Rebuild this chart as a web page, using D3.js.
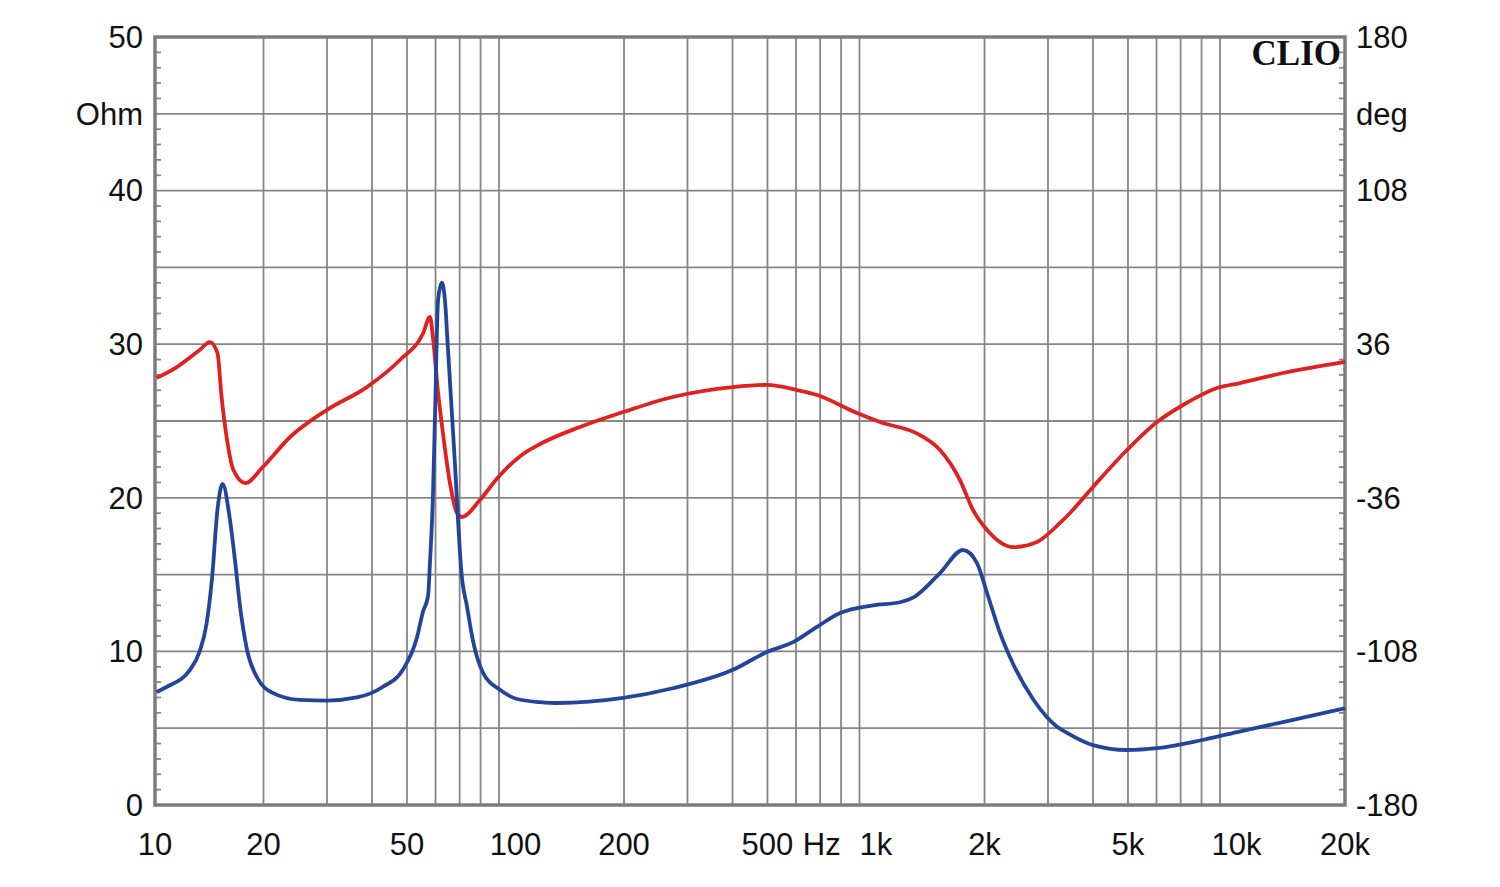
<!DOCTYPE html>
<html>
<head>
<meta charset="utf-8">
<script src="https://cdn.jsdelivr.net/npm/d3@7"></script>
<style>
html,body{margin:0;padding:0;background:#fff;}
svg{display:block;}
</style>
</head>
<body>
<svg id="chart" width="1500" height="887"></svg>
<script>
// Impedance magnitude (Ohm) vs frequency (Hz)
const impFreq = [10.1,10.8,12.5,13.3,13.9,14.4,14.9,15.4,16.1,16.7,17.2,18.0,19.2,21.2,25.3,30.0,36.3,42.9,48.7,53.3,55.4,57.2,57.9,59.0,59.8,61.0,62.5,63.7,65.0,66.7,68.0,69.3,70.7,73.4,76.2,81.3,90.6,101,117,130,199,273,401,498,589,686,795,981,1166,1267,1505,1743,1906,2033,2208,2399,2726,3178,3388,3999,4970,6020,7922,10030,13460,20000];
const impOhm  = [7.36,7.7,8.8,10.0,11.8,14.8,19.2,20.9,18.75,15.75,13.0,10.1,8.3,7.3,6.84,6.8,7.0,7.7,8.8,10.9,12.6,13.6,15.75,20,25.3,32.9,34.0,32.9,29.6,25.3,22,18.5,15.3,12.9,10.7,8.6,7.5,6.9,6.7,6.64,6.97,7.6,8.8,9.96,10.6,11.6,12.5,13.0,13.2,13.5,15.1,16.6,15.75,13.8,11.2,9.2,6.9,5.1,4.7,3.9,3.58,3.7,4.2,4.75,5.4,6.3];

// Phase (deg) vs frequency (Hz)
const phFreq = [10.1,11.5,13.3,14.2,14.9,15.3,15.8,16.5,17.8,19.9,23.7,30.0,38.7,47.8,55.4,57.9,59.0,61.0,62.9,65.8,68.8,71.0,79.7,88.9,94.7,103,117,151,199,273,401,498,604,686,886,1026,1325,1505,1710,1858,2033,2399,2796,3238,3453,3999,4970,6020,7106,8831,10226,13460,20000];
const phDeg  = [20.2,25.3,33.3,37.0,31.9,11.25,-7.5,-23,-29.1,-21.6,-7.5,5.2,15.9,28.6,41,48.75,39.4,13.1,-5.6,-29.1,-43.1,-45,-37,-27,-22,-16.5,-10.8,-2.8,4.2,11.25,15.9,16.9,14.5,12.2,3.75,-0.5,-6.6,-13.6,-27.7,-41.7,-51.1,-59.1,-56.7,-47.8,-43.1,-30.9,-13.6,-0.5,7.5,15.5,17.8,22.5,27.7];

const xTickValues = [10,20,50,100,200,500,1000,2000,5000,10000,20000];
const xTickLabels = ["10","20","50","100","200","500","1k","2k","5k","10k","20k"];
const leftTicks = [0,10,20,30,40,50];
const rightTicks = [-180,-108,-36,36,108,180];

const m = {left:155, right:1345, top:37, bottom:805};
const svg = d3.select("#chart");

const x = d3.scaleLog().domain([10,20000]).range([m.left,m.right]);
const yL = d3.scaleLinear().domain([0,50]).range([m.bottom,m.top]);
const yR = d3.scaleLinear().domain([-180,180]).range([m.bottom,m.top]);

const gridColor = "#868686";
const font = "'Liberation Sans', Arial, sans-serif";

// vertical grid
const vGrid = [];
for (let dec = 10; dec < 20000; dec *= 10) {
  for (let k = 2; k <= 9; k++) { const v = dec*k; if (v < 20000) vGrid.push(v); }
}
svg.append("g").selectAll("line").data(vGrid).join("line")
  .attr("x1", d => x(d)).attr("x2", d => x(d))
  .attr("y1", m.top).attr("y2", m.bottom)
  .attr("stroke", gridColor).attr("stroke-width", 1.8);

// horizontal grid every 5 Ohm
const hGrid = d3.range(5,50,5);
svg.append("g").selectAll("line").data(hGrid).join("line")
  .attr("x1", m.left).attr("x2", m.right)
  .attr("y1", d => yL(d)).attr("y2", d => yL(d))
  .attr("stroke", gridColor).attr("stroke-width", 1.8);

// minor ticks every 1 Ohm, inside on both sides
const minor = d3.range(1,50).filter(v => v % 5 !== 0);
svg.append("g").selectAll("line").data(minor).join("line")
  .attr("x1", m.left).attr("x2", m.left+6)
  .attr("y1", d => yL(d)).attr("y2", d => yL(d))
  .attr("stroke", gridColor).attr("stroke-width", 1.8);
svg.append("g").selectAll("line").data(minor).join("line")
  .attr("x1", m.right-6).attr("x2", m.right)
  .attr("y1", d => yL(d)).attr("y2", d => yL(d))
  .attr("stroke", gridColor).attr("stroke-width", 1.8);

// frame
svg.append("rect")
  .attr("x", m.left).attr("y", m.top)
  .attr("width", m.right-m.left).attr("height", m.bottom-m.top)
  .attr("fill", "none").attr("stroke", "#7c7c7c").attr("stroke-width", 3.5);

// axes labels
const lab = svg.append("g").attr("font-family", font).attr("font-size", 31).attr("fill", "#111");
lab.selectAll("text.l").data(leftTicks).join("text")
  .attr("x", 143).attr("y", d => yL(d)).attr("dy", "0.35em")
  .attr("text-anchor", "end").text(d => d);
lab.append("text").attr("x", 143).attr("y", yL(45)).attr("dy","0.35em").attr("text-anchor","end").text("Ohm");
lab.selectAll("text.r").data(rightTicks).join("text")
  .attr("x", 1356).attr("y", d => yR(d)).attr("dy", "0.35em")
  .attr("text-anchor", "start").text(d => d);
lab.append("text").attr("x", 1356).attr("y", yL(45)).attr("dy","0.35em").attr("text-anchor","start").text("deg");
lab.selectAll("text.x").data(xTickValues).join("text")
  .attr("x", d => x(d)).attr("y", 844).attr("dy", "0.35em")
  .attr("text-anchor", "middle").text((d,i) => xTickLabels[i]);
lab.append("text").attr("x", (x(500)+x(1000))/2 ).attr("y", 844).attr("dy","0.35em")
  .attr("text-anchor","middle").text("Hz");

// CLIO
svg.append("text").attr("x", 1341).attr("y", 65)
  .attr("text-anchor","end").attr("font-family","'Liberation Serif', 'Times New Roman', serif")
  .attr("font-weight","bold").attr("font-size", 35).attr("fill","#111").text("CLIO");

// curves
const phaseLine = d3.line().x((d,i) => x(phFreq[i])).y(d => yR(d)).curve(d3.curveMonotoneX);
const impLine = d3.line().x((d,i) => x(impFreq[i])).y(d => yL(d)).curve(d3.curveMonotoneX);

svg.append("path").datum(phDeg).attr("d", phaseLine)
  .attr("fill","none").attr("stroke","#e0211f").attr("stroke-width",3.8).attr("stroke-linejoin","round");
svg.append("path").datum(impOhm).attr("d", impLine)
  .attr("fill","none").attr("stroke","#22449a").attr("stroke-width",3.8).attr("stroke-linejoin","round");
</script>
</body>
</html>
